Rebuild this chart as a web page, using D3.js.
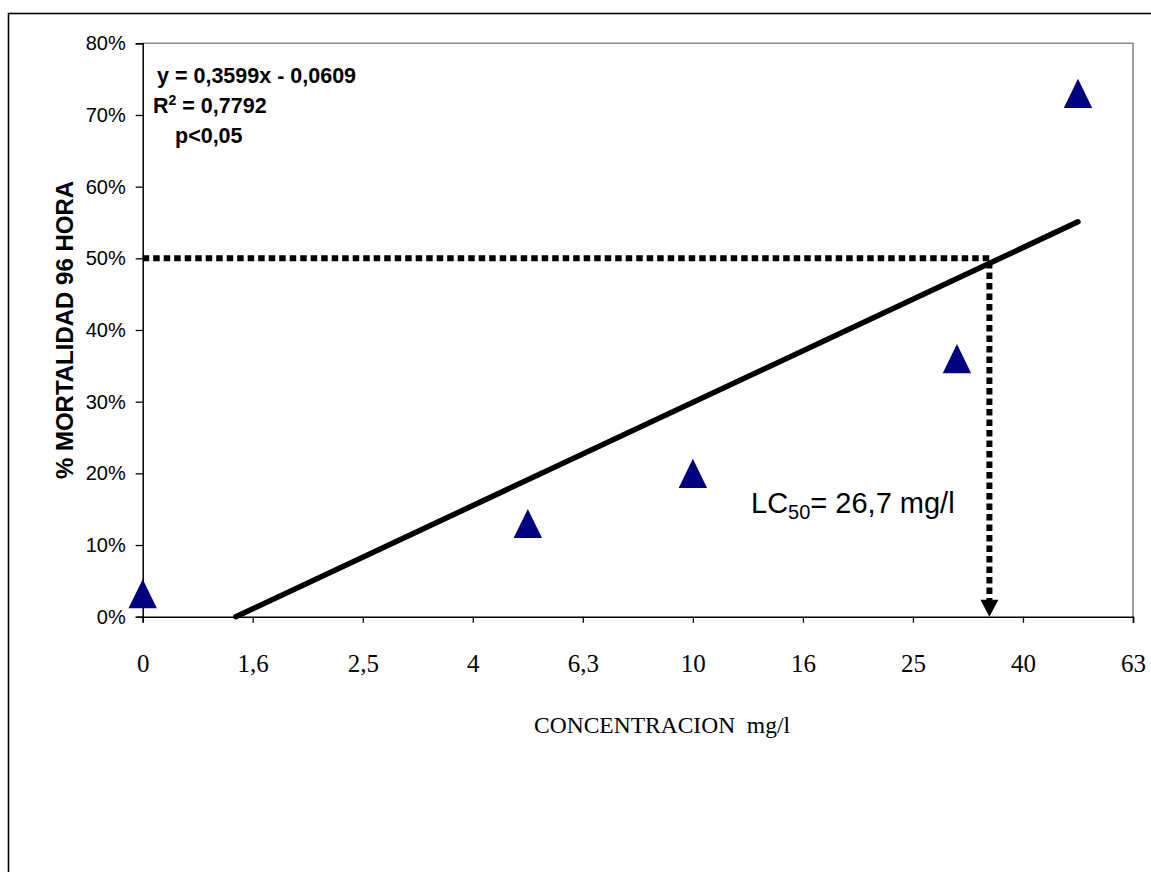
<!DOCTYPE html>
<html>
<head>
<meta charset="utf-8">
<script src="https://cdn.jsdelivr.net/npm/d3@7/dist/d3.min.js"></script>
<style>
  body { margin: 0; background: #fff; }
  svg { display: block; }
</style>
</head>
<body>
<div id="chart"></div>
<script>
// x positions are log10(concentration); the control (0 mg/l) sits at 0
const tickPos    = [0, 0.2, 0.4, 0.6, 0.8, 1.0, 1.2, 1.4, 1.6, 1.8]
const tickLabels = ["0", "1,6", "2,5", "4", "6,3", "10", "16", "25", "40", "63"]
const yTicks     = [0, 0.1, 0.2, 0.3, 0.4, 0.5, 0.6, 0.7, 0.8]

const pointX = [0, 0.70, 1.0, 1.48, 1.70]
const pointY = [0.032, 0.13, 0.20, 0.36, 0.73]

// linear fit y = slope * x + intercept
const slope = 0.3599
const intercept = -0.0609

// where the LC50 guide lines were drawn
const lc50X = 1.539
const lc50Y = 0.5

const W = 1151, H = 872
const PLOT = { left: 142.7, right: 1133, top: 43.3, bottom: 616.7 }
const SANS = "'Liberation Sans', Arial, sans-serif"
const SERIF = "'Liberation Serif', 'Times New Roman', serif"
const NAVY = "#000080"

const svg = d3.select("#chart").append("svg")
  .attr("width", W)
  .attr("height", H)

// outer chart frame (runs off the right and bottom)
svg.append("rect")
  .attr("x", 8.5).attr("y", 13.5)
  .attr("width", W + 10).attr("height", H + 10)
  .attr("fill", "none")
  .attr("stroke", "#000")
  .attr("stroke-width", 1.6)

const x = d3.scaleLinear().domain([0, 1.8]).range([PLOT.left, PLOT.right])
const y = d3.scaleLinear().domain([0, 0.8]).range([PLOT.bottom, PLOT.top])

// plot area border: grey top and right
svg.append("path")
  .attr("d", `M${PLOT.left},${PLOT.top}H${PLOT.right}V${PLOT.bottom}`)
  .attr("fill", "none")
  .attr("stroke", "#888")
  .attr("stroke-width", 1.6)

// y axis
const yAxis = svg.append("g")
  .attr("transform", `translate(${PLOT.left},0)`)
  .call(d3.axisLeft(y).tickValues(yTicks).tickSize(7).tickPadding(10)
    .tickFormat(d => Math.round(d * 100) + "%"))
yAxis.select(".domain").attr("stroke", "#000").attr("stroke-width", 1.5)
yAxis.selectAll(".tick line").attr("stroke", "#000").attr("stroke-width", 1.3)
yAxis.selectAll("text")
  .attr("font-family", SANS)
  .attr("font-size", "20px")
  .attr("fill", "#000")

// x axis
const xAxis = svg.append("g")
  .attr("transform", `translate(0,${PLOT.bottom})`)
  .call(d3.axisBottom(x).tickValues(tickPos).tickSize(6).tickPadding(32)
    .tickFormat((d, i) => tickLabels[i]))
xAxis.select(".domain").attr("stroke", "#000").attr("stroke-width", 1.5)
xAxis.selectAll(".tick line").attr("stroke", "#000").attr("stroke-width", 1.3)
xAxis.selectAll("text")
  .attr("font-family", SERIF)
  .attr("font-size", "25px")
  .attr("fill", "#000")

// axis titles
svg.append("text")
  .attr("transform", "translate(73,330) rotate(-90)")
  .attr("text-anchor", "middle")
  .attr("font-family", SANS)
  .attr("font-size", "24px")
  .attr("font-weight", "bold")
  .text("% MORTALIDAD 96 HORA")

svg.append("text")
  .attr("x", 662)
  .attr("y", 733)
  .attr("text-anchor", "middle")
  .attr("font-family", SERIF)
  .attr("font-size", "23.5px")
  .attr("xml:space", "preserve")
  .text("CONCENTRACION  mg/l")

// trend line, from where it crosses 0% up to the last point
const x0 = -intercept / slope
const x1 = d3.max(pointX)
svg.append("line")
  .attr("x1", x(x0)).attr("y1", y(slope * x0 + intercept))
  .attr("x2", x(x1)).attr("y2", y(slope * x1 + intercept))
  .attr("stroke", "#000")
  .attr("stroke-width", 5.5)
  .attr("stroke-linecap", "round")

// LC50 guides
svg.append("path")
  .attr("d", `M${x(0)},${y(lc50Y)}H${x(lc50X)}V${y(0) - 15}`)
  .attr("fill", "none")
  .attr("stroke", "#000")
  .attr("stroke-width", 6)
  .attr("stroke-dasharray", "6.5 4")

const ax = x(lc50X), ay = y(0)
svg.append("path")
  .attr("d", `M${ax - 9},${ay - 17}L${ax + 9},${ay - 17}L${ax},${ay}Z`)
  .attr("fill", "#000")

// data points (triangles)
svg.append("g")
  .selectAll("path")
  .data(pointX.map((v, i) => ({ x: v, y: pointY[i] })))
  .join("path")
  .attr("transform", d => `translate(${x(d.x)},${y(d.y)})`)
  .attr("d", "M0,-14.6L14.2,14.6L-14.2,14.6Z")
  .attr("fill", NAVY)

// regression text
const eq = svg.append("g")
  .attr("font-family", SANS)
  .attr("font-size", "21.5px")
  .attr("font-weight", "bold")
eq.append("text").attr("x", 157).attr("y", 83)
  .attr("xml:space", "preserve")
  .text("y = 0,3599x - 0,0609")
const r2 = eq.append("text").attr("x", 153).attr("y", 113)
r2.append("tspan").text("R")
r2.append("tspan").attr("font-size", "14px").attr("dy", -8).text("2")
r2.append("tspan").attr("dy", 8).attr("xml:space", "preserve").text(" = 0,7792")
eq.append("text").attr("x", 175).attr("y", 143).text("p<0,05")

// LC50 label
const lc = svg.append("text")
  .attr("x", 751)
  .attr("y", 513)
  .attr("font-family", SANS)
  .attr("font-size", "29px")
lc.append("tspan").text("LC")
lc.append("tspan").attr("font-size", "20px").attr("dy", 6).text("50")
lc.append("tspan").attr("dy", -6).text("= 26,7 mg/l")
</script>
</body>
</html>
